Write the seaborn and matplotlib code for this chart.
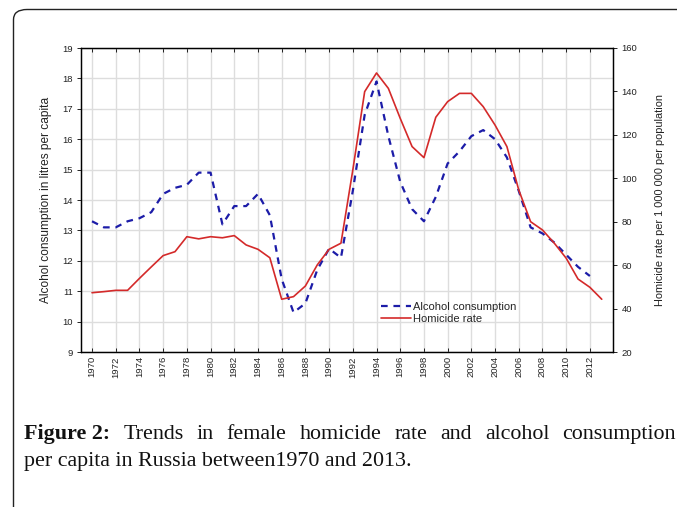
import numpy as np
import pandas as pd
import matplotlib
matplotlib.use("Agg")
import matplotlib.pyplot as plt
from matplotlib.patches import FancyBboxPatch
from matplotlib.lines import Line2D
import seaborn as sns

sns.set_theme(style="white")
plt.rcParams['font.family'] = ['Liberation Sans', 'DejaVu Sans']

alcohol_years = list(range(1970, 2013))
alcohol = [13.3, 13.1, 13.1, 13.3, 13.4, 13.6, 14.2, 14.4, 14.5, 14.9,
           14.9, 13.2, 13.8, 13.8, 14.2, 13.5, 11.4, 10.3, 10.6, 11.7,
           12.4, 12.1, 14.3, 16.8, 17.9, 16.1, 14.6, 13.7, 13.3, 14.1,
           15.2, 15.6, 16.1, 16.3, 16.0, 15.4, 14.3, 13.1, 12.9, 12.6,
           12.2, 11.8, 11.5]
homicide_years = list(range(1970, 2014))
homicide = [47.3, 47.8, 48.4, 48.4, 53.9, 59.2, 64.4, 66.2, 73.1, 72.1,
            73.1, 72.6, 73.6, 69.3, 67.3, 63.4, 44.3, 45.5, 50.4, 60.1,
            67.3, 70.1, 103.8, 139.9, 148.5, 141.4, 127.6, 114.6, 109.5, 128.1,
            135.3, 139.1, 139.1, 133.0, 124.5, 114.6, 94.6, 80.0, 76.2, 70.1,
            63.2, 53.6, 49.8, 44.3]
xtick_labels = [str(y) for y in range(1970, 2013, 2)]
left_ticks = list(range(9, 20))
right_ticks = list(range(20, 161, 20))

df_a = pd.DataFrame({"year": alcohol_years, "value": alcohol})
df_h = pd.DataFrame({"year": homicide_years, "value": homicide})

blue = "#1c1ca8"
red = "#d42a2a"

fig = plt.figure(figsize=(6.77, 5.07), dpi=100)
fig.patch.set_facecolor("white")

# outer frame (rounded)
frame = FancyBboxPatch((13.5 / 677, -0.05), 1.2, 1 - 9.5 / 507 + 0.05,
                       boxstyle="round,pad=0,rounding_size=0.02",
                       transform=fig.transFigure, fill=False,
                       edgecolor="#222222", linewidth=1.0, clip_on=False)
fig.patches.append(frame)

ax = fig.add_axes([81 / 677, 1 - 352 / 507, 532 / 677, 304 / 507])
ax2 = ax.twinx()

sns.lineplot(data=df_a, x="year", y="value", ax=ax, color=blue,
             linewidth=1.6, dashes=False, legend=False)
ax.lines[0].set_dashes((3, 2.6))
sns.lineplot(data=df_h, x="year", y="value", ax=ax2, color=red,
             linewidth=1.2, legend=False)

tick_fs = 6.8
ax.set_xlim(1969.07, 2013.95)
ax.set_ylim(9, 19)
ax2.set_ylim(20, 160)
ax.set_xticks(range(1970, 2013, 2))
ax.set_xticklabels(xtick_labels, rotation=90, fontsize=tick_fs, color="#222222")
ax.set_yticks(left_ticks)
ax.set_yticklabels([str(t) for t in left_ticks], fontsize=tick_fs, color="#222222")
ax2.set_yticks(right_ticks)
ax2.set_yticklabels([str(t) for t in right_ticks], fontsize=tick_fs, color="#222222")

ax.grid(True, color="#dddddd", linewidth=1.0)
ax.set_axisbelow(True)
ax2.grid(False)
ax.set_xlabel("")
ax.set_ylabel("Alcohol consumption in litres per capita", fontsize=8.6,
              labelpad=7, color="#222222")
ax2.set_ylabel("Homicide rate per 1 000 000 per population", fontsize=7.9,
               labelpad=13, rotation=90, color="#222222")

for a in (ax, ax2):
    for s in a.spines.values():
        s.set_color("black")
        s.set_linewidth(0.9)
ax.tick_params(axis="both", which="both", length=3, width=0.6, color="black",
               direction="out", pad=3, left=True, bottom=True)
ax.tick_params(axis="x", top=True, direction="in", length=3)
ax2.tick_params(axis="y", length=3, width=0.6, color="black", direction="out",
                right=True, pad=3)

handles = [Line2D([0], [0], color=blue, linewidth=1.6, dashes=(3, 2.6)),
           Line2D([0], [0], color=red, linewidth=1.2)]
ax2.legend(handles, ["Alcohol consumption", "Homicide rate"],
           loc="lower left", bbox_to_anchor=(0.545, 0.058), frameon=False,
           fontsize=8, handlelength=2.7, handletextpad=0.2, labelspacing=0.2)

# caption (first line justified to the right edge)
cap_fs = 15.8
serif = ["Liberation Serif"]
base1 = 1 - 439 / 507
base2 = 1 - 466 / 507
words = [("Figure 2:", "bold")] + [(w, "normal") for w in
         "Trends in female homicide rate and alcohol consumption".split()]
texts = [fig.text(0, base1, w, fontsize=cap_fs, fontweight=wt, family=serif,
                  ha="left", va="baseline", color="#111111") for w, wt in words]
renderer = fig.canvas.get_renderer()
widths = [t.get_window_extent(renderer).width for t in texts]
left_px, right_px = 24, 676
gap = (right_px - left_px - sum(widths)) / (len(widths) - 1)
x = left_px
for t, w in zip(texts, widths):
    t.set_x(x / 677)
    x += w + gap
fig.text(24 / 677, base2, "per capita in Russia between1970 and 2013.",
         fontsize=cap_fs, family=serif, ha="left", va="baseline", color="#111111")

fig.savefig("out.png", dpi=100, facecolor="white")
